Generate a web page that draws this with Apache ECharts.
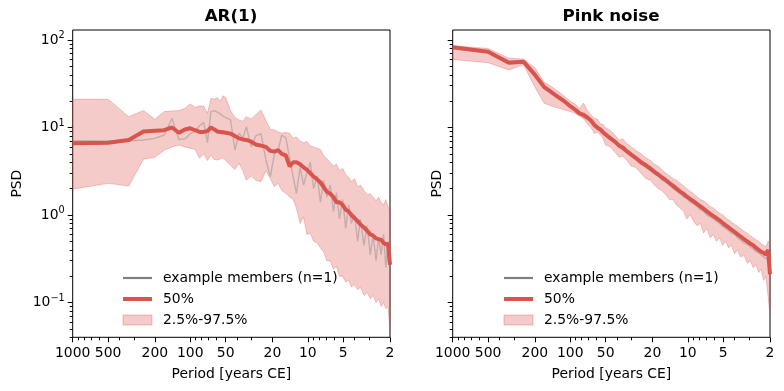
<!DOCTYPE html>
<html><head><meta charset="utf-8">
<script src="https://cdn.jsdelivr.net/npm/echarts@6/dist/echarts.min.js"></script>
<style>html,body{margin:0;padding:0;background:#fff}#c{width:784px;height:391px}</style>
</head><body><div id="c"></div>
<script>
// Period axis (years), frequencies k/1000
const periods = [1000,500,333.33,250,200,166.67,142.86,125,111.11,100,
 90.91,83.33,76.92,71.43,66.67,62.5,58.82,55.56,52.63,50,
 45.45,41.67,38.46,35.71,33.33,30.3,27.78,25,22.73,20.83,
 19.23,17.86,16.67,15.38,14.29,13.33,12.5,11.63,10.87,10.2,
 9.52,8.93,8.33,7.81,7.35,6.9,6.45,6.06,5.71,5.38,
 5.05,4.76,4.5,4.26,4,3.77,3.57,3.33,3.13,2.94,
 2.78,2.63,2.5,2.38,2.27,2.17,2.08,2];

// AR(1) panel
const arMedian = [6.6,6.7,7.2,9.0,9.2,9.3,10.0,8.7,9.5,9.8,
 9.3,8.9,8.9,9.1,10.0,9.5,9.0,8.9,8.8,8.7,
 8.5,8.0,7.5,7.3,7.2,6.9,6.4,6.2,6.0,5.4,
 5.3,5.5,5.0,4.8,3.6,4.0,4.0,3.8,3.5,3.3,
 3.0,2.75,2.55,2.35,2.1,1.85,1.75,1.6,1.4,1.4,
 1.3,1.15,1.1,1.0,0.92,0.85,0.78,0.72,0.66,0.6,
 0.58,0.54,0.53,0.52,0.48,0.46,0.47,0.27];
const arHigh = [21,21,13.3,15.6,12.4,15.2,15.4,15.6,16.5,18.6,
 17.0,17.6,17.6,14.5,21.6,21.0,22.0,20.0,23.0,22.0,
 15.5,13.0,12.2,11.8,13.3,12.5,14.0,15.8,12.0,9.5,
 9.4,8.9,8.6,8.8,8.6,7.5,7.8,7.0,6.7,6.9,
 6.2,6.0,5.8,5.6,4.8,4.4,4.0,3.6,3.8,3.2,
 3.4,2.9,2.7,2.4,2.6,2.1,2.2,1.9,1.7,1.75,
 1.6,1.45,1.6,1.4,1.3,1.5,1.25,1.1];
const arLow = [1.97,2.3,2.14,4.34,4.56,5.5,6.0,6.3,6.0,5.8,
 5.6,4.45,5.0,4.2,4.8,4.3,4.25,4.4,4.5,4.2,
 3.7,3.3,3.9,3.2,2.5,2.8,2.5,2.4,3.2,2.6,
 2.1,2.3,1.9,1.77,1.6,1.5,1.2,0.8,0.95,0.6,
 0.62,0.5,0.48,0.42,0.38,0.3,0.3,0.24,0.26,0.2,
 0.2,0.17,0.18,0.15,0.16,0.14,0.15,0.12,0.13,0.11,
 0.12,0.1,0.11,0.09,0.1,0.085,0.09,0.045];
const arMember = [7.06,7.0,7.0,7.2,7.5,8.2,12.7,7.3,7.4,8.5,
 9.0,10.5,11.4,6.7,15.2,15.6,15.0,14.3,13.5,13.0,
 12.2,5.5,8.6,7.5,10.2,6.0,8.0,8.5,4.25,2.74,
 5.0,5.5,8.2,7.6,4.5,2.74,1.77,3.5,2.2,3.0,
 4.0,2.0,2.8,1.4,2.5,1.6,2.2,1.1,1.8,0.9,
 1.5,0.7,1.3,0.8,1.0,0.5,0.9,0.45,0.75,0.35,
 0.6,0.3,0.55,0.35,0.6,0.25,0.5,0.3];

// Pink noise panel
const pnMedian = [82.5,73.5,55,56.5,40,29,25,22,19.7,17.5,
 16,14.5,13.9,13,12,10.7,10,9.5,8.8,8.3,
 7.5,6.9,6.2,5.9,5.4,4.9,4.5,4.0,3.7,3.4,
 3.1,2.9,2.7,2.5,2.3,2.15,2.0,1.85,1.75,1.62,
 1.52,1.43,1.33,1.25,1.18,1.1,1.03,0.97,0.92,0.87,
 0.81,0.76,0.72,0.68,0.64,0.6,0.57,0.53,0.5,0.47,
 0.45,0.42,0.4,0.38,0.37,0.35,0.4,0.21];
const pnHigh = [86,80,62,60.5,48,33,29,25.5,22.5,20,
 18.5,16.6,19,15.5,14,12.7,12.5,11,10.8,10,
 9.2,8.2,7.2,7.4,6.6,6.0,5.5,5.0,4.5,4.2,
 3.8,3.6,3.3,3.0,2.8,2.6,2.5,2.3,2.15,2.0,
 1.85,1.75,1.6,1.5,1.45,1.35,1.25,1.2,1.12,1.05,
 1.0,0.93,0.88,0.83,0.78,0.74,0.7,0.65,0.62,0.58,
 0.55,0.52,0.5,0.47,0.45,0.43,0.5,0.48];
const pnLow = [60,55,45.4,52,29,18.9,17.5,16.6,15.8,15.2,
 14.5,13.5,12.5,11,10,8.6,8.8,8.3,7.5,6.3,
 6.0,5.2,4.6,4.7,4.3,3.6,3.5,3.0,2.6,2.5,
 2.2,2.0,1.9,1.7,1.5,1.5,1.3,1.2,1.1,0.9,
 1.0,0.85,0.75,0.8,0.62,0.7,0.55,0.6,0.5,0.55,
 0.45,0.5,0.42,0.45,0.36,0.4,0.33,0.35,0.28,0.3,
 0.25,0.27,0.22,0.24,0.18,0.2,0.12,0.07];
const pnMember = [80,72,58,57,42,30,25.5,22,19.5,17,
 15.5,14,13,12.5,11.5,10.2,9.5,9.2,8.4,8.0,
 7.2,6.6,6.0,5.5,5.2,4.7,4.3,3.8,3.5,3.2,
 3.0,2.8,2.5,2.4,2.2,2.0,1.9,1.75,1.6,1.55,
 1.4,1.35,1.25,1.15,1.1,1.0,0.95,0.9,0.85,0.8,
 0.74,0.7,0.66,0.62,0.6,0.55,0.52,0.48,0.46,0.43,
 0.41,0.38,0.37,0.35,0.33,0.32,0.31,0.22];

const xMajor = [1000,500,200,100,50,20,10,5,2];
const xMinor = [900,800,700,600,400,300,90,80,70,60,40,30,9,8,7,6,4,3];
const yMajor = [0.1,1,10,100];
const yMinor = [0.04,0.05,0.06,0.07,0.08,0.09,0.2,0.3,0.4,0.5,0.6,0.7,0.8,0.9,2,3,4,5,6,7,8,9,20,30,40,50,60,70,80,90];

const titles = ['AR(1)','Pink noise'];
const legendNames = ['example members (n=1)','50%','2.5%-97.5%'];

const RED = '#d9544d';
const FILL = 'rgba(217,84,77,0.3)';
const FONT = 'DejaVu Sans';
const FS = 13.9;

const grids = [
  {left:72.7, top:30, width:317.3, height:307.3},
  {left:452.7, top:30, width:317.3, height:307.3}
];

function xAxes(gi){
  const base = {type:'log', logBase:10, gridIndex:gi, min:2, max:1000, inverse:true, position:'bottom',
    splitLine:{show:false}, axisLine:{show:false, onZero:false}};
  return [
    Object.assign({}, base, {
      name:'Period [years CE]', nameLocation:'middle', nameGap:30,
      nameTextStyle:{fontFamily:FONT, fontSize:FS, color:'#000'},
      axisTick:{show:true, customValues:xMajor, length:5, lineStyle:{color:'#000', width:1}},
      axisLabel:{show:true, customValues:xMajor, margin:9, fontFamily:FONT, fontSize:FS, color:'#000',
        formatter:v=>String(Math.round(v))}
    }),
    Object.assign({}, base, {
      axisTick:{show:true, customValues:xMinor, length:3, lineStyle:{color:'#000', width:1}},
      axisLabel:{show:false, customValues:xMinor}
    })
  ];
}
function yAxes(gi, showLabels){
  const base = {type:'log', logBase:10, gridIndex:gi, min:0.04, max:130, position:'left',
    splitLine:{show:false}, axisLine:{show:false, onZero:false}};
  return [
    Object.assign({}, base, {
      name:'PSD', nameLocation:'middle', nameGap: showLabels ? 48 : 8,
      nameTextStyle:{fontFamily:FONT, fontSize:FS, color:'#000'},
      axisTick:{show:true, customValues:yMajor, length:5, lineStyle:{color:'#000', width:1}},
      axisLabel:{show:showLabels, customValues:yMajor, margin:8, fontFamily:FONT, fontSize:FS, color:'#000',
        formatter:v=>{const e=Math.round(Math.log10(v)); return '10{s|'+(e<0?'\u2212'+(-e):e)+'}';},
        rich:{s:{fontFamily:FONT, fontSize:9.7, color:'#000', padding:[0,0,8,0]}}}
    }),
    Object.assign({}, base, {
      axisTick:{show:true, customValues:yMinor, length:3, lineStyle:{color:'#000', width:1}},
      axisLabel:{show:false, customValues:yMinor}
    })
  ];
}

function band(name, xi, yi, lo, hi){
  return {type:'custom', name:name, xAxisIndex:xi, yAxisIndex:yi, silent:true, z:1,
    itemStyle:{color:FILL},
    data: periods.map((p,i)=>[p, lo[i], hi[i]]),
    encode:{x:0, y:[1,2]},
    renderItem:(params, api)=>{
      if(params.dataIndex!==0) return null;
      const pts=[];
      for(let i=0;i<periods.length;i++) pts.push(api.coord([periods[i], hi[i]]));
      for(let i=periods.length-1;i>=0;i--) pts.push(api.coord([periods[i], lo[i]]));
      return {type:'polygon', shape:{points:pts},
        style:{fill:FILL, stroke:'rgba(217,84,77,0.3)', lineWidth:1}};
    }};
}
function line(name, xi, yi, vals, color, width, opacity, z){
  return {type:'line', name:name, xAxisIndex:xi, yAxisIndex:yi, symbol:'none', showSymbol:false,
    z:z, silent:true, itemStyle:{color:color},
    lineStyle:{color:color, width:width, opacity:opacity},
    data: periods.map((p,i)=>[p, vals[i]])};
}

function legend(left){
  return {show:true, orient:'vertical', left:left, top:266, itemWidth:29, itemHeight:10, itemGap:7,
    textStyle:{fontFamily:FONT, fontSize:FS, color:'#000', padding:[0,0,0,6]},
    selectedMode:false,
    data:[
      {name:legendNames[0], icon:'line', itemStyle:{color:'#808080', borderColor:'#808080', borderWidth:2.2, opacity:1}},
      {name:legendNames[1], icon:'line', itemStyle:{color:RED, borderColor:RED, borderWidth:4, opacity:1}},
      {name:legendNames[2], icon:'rect', itemStyle:{color:FILL, borderColor:'rgba(217,84,77,0.35)', borderWidth:1}}
    ]};
}

const chart = echarts.init(document.getElementById('c'), null, {renderer:'canvas'});
chart.setOption({
  animation:false,
  backgroundColor:'#fff',
  grid: grids.map(g=>Object.assign({show:true, borderColor:'#000', borderWidth:1, backgroundColor:'transparent'}, g)),
  xAxis: xAxes(0).concat(xAxes(1)),
  yAxis: yAxes(0,true).concat(yAxes(1,false)),
  legend:[legend(116), legend(497)],
  graphic:[
    {type:'text', x:231, y:17, style:{text:titles[0], align:'center', verticalAlign:'middle', font:'bold 16.7px "DejaVu Sans"', fill:'#000'}},
    {type:'text', x:611, y:17, style:{text:titles[1], align:'center', verticalAlign:'middle', font:'bold 16.7px "DejaVu Sans"', fill:'#000'}}
  ],
  series:[
    band(legendNames[2], 0, 0, arLow, arHigh),
    line(legendNames[0], 0, 0, arMember, '#808080', 1.4, 0.4, 2),
    line(legendNames[1], 0, 0, arMedian, RED, 4, 1, 3),
    band(legendNames[2], 2, 2, pnLow, pnHigh),
    line(legendNames[0], 2, 2, pnMember, '#808080', 1.4, 0.4, 2),
    line(legendNames[1], 2, 2, pnMedian, RED, 4, 1, 3)
  ]
});
</script></body></html>
